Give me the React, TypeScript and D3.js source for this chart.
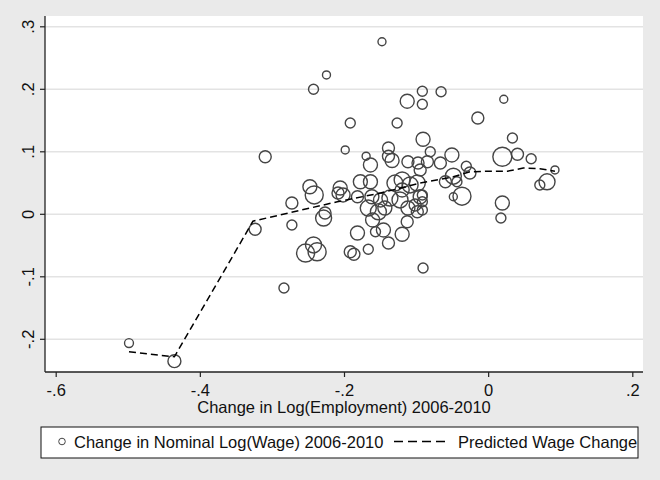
import React from "react";
import * as d3 from "d3";

// Change in Log(Employment) 2006-2010 (x), Change in Nominal Log(Wage) 2006-2010 (y), weight (marker size)
const empChange = [
  -0.499, -0.436, -0.324, -0.31, -0.284, -0.273, -0.273, -0.254, -0.243, -0.238,
  -0.248, -0.242, -0.243, -0.225, -0.148, -0.192, -0.199, -0.17, -0.164, -0.127,
  -0.113, -0.092, -0.092, -0.066, 0.021, -0.015, 0.033, 0.019, 0.04, 0.059,
  0.092, 0.081, 0.071, -0.051, -0.031, -0.026, -0.067, -0.049, -0.06, -0.044,
  -0.037, -0.049, 0.019, 0.017, -0.091, -0.081, -0.085, -0.139, -0.139, -0.134,
  -0.112, -0.098, -0.178, -0.164, -0.206, -0.209, -0.202, -0.182, -0.162, -0.13,
  -0.12, -0.109, -0.099, -0.12, -0.095, -0.102, -0.137, -0.15, -0.123, -0.112,
  -0.144, -0.167, -0.153, -0.099, -0.227, -0.229, -0.182, -0.161, -0.157, -0.146,
  -0.139, -0.12, -0.113, -0.192, -0.187, -0.167, -0.091, -0.092, -0.092, -0.092,
  -0.095,
];
const wageChange = [
  -0.206, -0.235, -0.024, 0.092, -0.118, -0.017, 0.018, -0.062, -0.049, -0.06,
  0.044, 0.031, 0.2, 0.223, 0.276, 0.146, 0.103, 0.093, 0.079, 0.146,
  0.181, 0.197, 0.176, 0.196, 0.184, 0.154, 0.122, 0.092, 0.096, 0.089,
  0.071, 0.052, 0.047, 0.095, 0.077, 0.066, 0.082, 0.061, 0.052, 0.052,
  0.029, 0.028, 0.018, -0.006, 0.12, 0.1, 0.084, 0.106, 0.093, 0.086,
  0.084, 0.082, 0.052, 0.052, 0.042, 0.034, 0.031, 0.028, 0.028, 0.05,
  0.055, 0.047, 0.05, 0.039, 0.028, 0.015, 0.026, 0.023, 0.023, 0.01,
  0.01, 0.01, 0.004, 0.004, 0.002, -0.006, -0.03, -0.009, -0.028, -0.025,
  -0.046, -0.032, -0.012, -0.06, -0.064, -0.056, -0.086, 0.031, 0.02, 0.007,
  0.071,
];
const weights = [
  20, 42, 36, 36, 25, 25, 36, 81, 64, 81,
  49, 81, 25, 16, 16, 25, 16, 16, 49, 25,
  49, 25, 25, 25, 16, 36, 25, 90, 36, 25,
  16, 64, 25, 49, 25, 36, 36, 64, 36, 25,
  81, 16, 49, 25, 49, 25, 36, 36, 36, 49,
  36, 36, 49, 49, 49, 36, 49, 36, 49, 64,
  64, 64, 64, 49, 49, 36, 64, 49, 64, 49,
  49, 64, 64, 36, 36, 64, 49, 49, 25, 49,
  36, 49, 36, 36, 36, 25, 25, 25, 25, 25,
  36,
];

// Predicted wage change (dashed line)
const predX = [-0.499, -0.436, -0.327, -0.21, -0.15, -0.095, -0.049, -0.026, 0.002, 0.026, 0.048, 0.071, 0.092];
const predY = [-0.22, -0.228, -0.011, 0.02, 0.034, 0.05, 0.06, 0.068, 0.069, 0.069, 0.074, 0.073, 0.069];

const xTicks = [-0.6, -0.4, -0.2, 0, 0.2];
const xTickLabels = ["-.6", "-.4", "-.2", "0", ".2"];
const yTicks = [-0.2, -0.1, 0, 0.1, 0.2, 0.3];
const yTickLabels = ["-.2", "-.1", "0", ".1", ".2", ".3"];

const xTitle = "Change in Log(Employment) 2006-2010";
const legendLabels = ["Change in Nominal Log(Wage) 2006-2010", "Predicted Wage Change"];

export default function App() {
  const W = 660, H = 480;
  const left = 45, right = 643, top = 16, bottom = 372;
  const x = d3.scaleLinear().domain([-0.6, 0.2]).range([56.2, 632.8]);
  const y = d3.scaleLinear().domain([-0.2, 0.3]).range([339.3, 26.8]);
  const r = d3.scaleSqrt().domain([0, 100]).range([0, 10]);
  const font = "'Liberation Sans', Arial, Helvetica, sans-serif";
  const markColor = "#454545";
  const fs = 16.5;

  const line = d3
    .line<number>()
    .x((_, i) => x(predX[i]))
    .y((_, i) => y(predY[i]));

  return (
    <svg
      width={W}
      height={H}
      style={{ position: "absolute", left: 0, top: 0, display: "block" }}
      fontFamily={font}
    >
      <rect x={0} y={0} width={W} height={H} fill="#eaeaea" />
      <rect x={left} y={top} width={right - left} height={bottom - top} fill="#ffffff" />
      {yTicks.map((t) => (
        <line key={"g" + t} x1={left} x2={right} y1={y(t)} y2={y(t)} stroke="#e3e3e3" strokeWidth={1.5} />
      ))}
      {empChange.map((v, i) => (
        <circle
          key={"c" + i}
          cx={x(v)}
          cy={y(wageChange[i])}
          r={r(weights[i])}
          fill="none"
          stroke={markColor}
          strokeWidth={1.4}
        />
      ))}
      <path d={line(predX) || ""} fill="none" stroke="#000" strokeWidth={1.5} strokeDasharray="7,4" />
      {/* axes */}
      <line x1={left} x2={left} y1={top} y2={bottom} stroke="#222" strokeWidth={1.3} />
      <line x1={left} x2={right} y1={bottom} y2={bottom} stroke="#222" strokeWidth={1.3} />
      {yTicks.map((t, i) => (
        <g key={"yt" + t}>
          <line x1={left - 5} x2={left} y1={y(t)} y2={y(t)} stroke="#222" strokeWidth={1.2} />
          <text
            transform={`translate(${33.5},${y(t)}) rotate(-90)`}
            textAnchor="middle"
            fontSize={fs}
            fill="#111"
          >
            {yTickLabels[i]}
          </text>
        </g>
      ))}
      {xTicks.map((t, i) => (
        <g key={"xt" + t}>
          <line x1={x(t)} x2={x(t)} y1={bottom} y2={bottom + 5} stroke="#222" strokeWidth={1.2} />
          <text x={x(t)} y={396} textAnchor="middle" fontSize={fs} fill="#111">
            {xTickLabels[i]}
          </text>
        </g>
      ))}
      <text x={(left + right) / 2} y={413} textAnchor="middle" fontSize={fs} fill="#111">
        {xTitle}
      </text>
      {/* legend */}
      <rect x={41} y={427} width={597} height={31} fill="#fff" stroke="#111" strokeWidth={1} />
      <circle cx={62} cy={441.5} r={3.3} fill="none" stroke={markColor} strokeWidth={1} />
      <text x={74} y={447.5} fontSize={fs} fill="#111">
        {legendLabels[0]}
      </text>
      <line x1={394} x2={445} y1={441.5} y2={441.5} stroke="#000" strokeWidth={1.5} strokeDasharray="9,5" />
      <text x={458} y={447.5} fontSize={fs} fill="#111">
        {legendLabels[1]}
      </text>
    </svg>
  );
}
